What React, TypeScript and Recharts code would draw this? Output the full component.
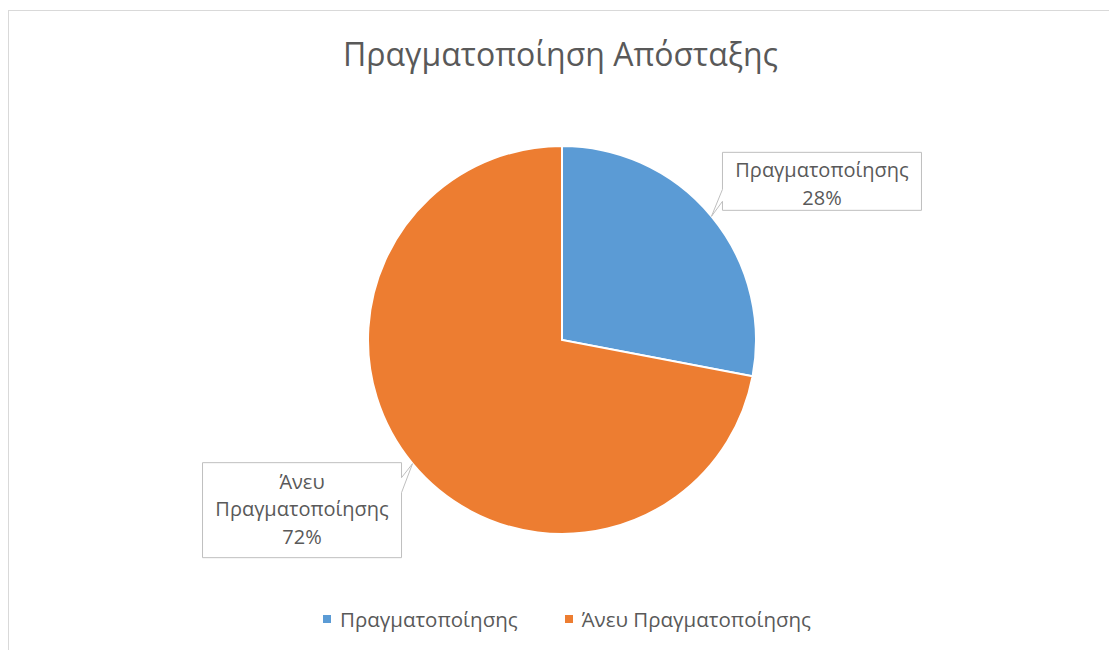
import React from 'react';
import { PieChart, Pie, Cell, Legend } from 'recharts';

const categories = ['Πραγματοποίησης', 'Άνευ Πραγματοποίησης'];
const values = [28, 72];
const title = 'Πραγματοποίηση Απόσταξης';

const COLORS = ['#5B9BD5', '#ED7D31'];
const TEXT = '#595959';
const FONT = '"Open Sans", sans-serif';

const data = categories.map((name, i) => ({ name, value: values[i] }));

// callout box geometry per slice (style only)
const BOXES = [
  { side: 'right', dx: 11, dy: -64, w: 199, h: 58, base1: 37, base2: 49, firstLine: 25 },
  { side: 'left', dx: -11, dy: -1, w: 199, h: 95, base1: 15, base2: 30, firstLine: 26 },
];
const LINE_H = 27.5;
const RADIAN = Math.PI / 180;

const renderLabel = (props: any) => {
  const { cx, cy, midAngle, outerRadius, percent, index, name } = props;
  const tx = cx + outerRadius * Math.cos(-midAngle * RADIAN);
  const ty = cy + outerRadius * Math.sin(-midAngle * RADIAN);
  const b = BOXES[index];
  const top = ty + b.dy;
  const bottom = top + b.h;
  let left: number, right: number, d: string;
  if (b.side === 'right') {
    left = tx + b.dx;
    right = left + b.w;
    d = `M${left},${top} H${right} V${bottom} H${left} V${top + b.base2} L${tx},${ty} L${left},${top + b.base1} Z`;
  } else {
    right = tx + b.dx;
    left = right - b.w;
    d = `M${left},${top} H${right} V${top + b.base1} L${tx},${ty} L${right},${top + b.base2} V${bottom} H${left} Z`;
  }
  const words = String(name).split(' ');
  const lines = [...words, `${Math.round(percent * 100)}%`];
  const mid = (left + right) / 2;
  return (
    <g key={`lbl-${index}`}>
      <path d={d} fill="#FFFFFF" stroke="#BFBFBF" strokeWidth={1} />
      {lines.map((t, i) => (
        <text
          key={i}
          x={mid}
          y={top + b.firstLine + i * LINE_H}
          textAnchor="middle"
          fill={TEXT}
          fontFamily={FONT}
          fontSize={20}
        >
          {t}
        </text>
      ))}
    </g>
  );
};

const renderLegend = (props: any) => {
  const payload = [...(props.payload || [])].sort(
    (a: any, b: any) => categories.indexOf(a.value) - categories.indexOf(b.value)
  );
  return (
    <div style={{ display: 'flex', justifyContent: 'center', alignItems: 'center', fontFamily: FONT, fontSize: 20.5, color: TEXT, lineHeight: '24px' }}>
      {payload.map((p: any, i: number) => (
        <div key={i} style={{ display: 'flex', alignItems: 'center', marginLeft: i === 0 ? 0 : 47 }}>
          <span style={{ display: 'inline-block', width: 8, height: 8, background: p.color, marginRight: 9 }} />
          <span>{p.value}</span>
        </div>
      ))}
    </div>
  );
};

export default function App() {
  return (
    <div style={{ position: 'absolute', left: 0, top: 0, width: 1109, height: 650, overflow: 'hidden', background: '#FFFFFF' }}>
      <div style={{ position: 'absolute', left: 8, top: 10, width: 1300, height: 900, border: '1px solid #D9D9D9', boxSizing: 'border-box' }} />
      <div
        style={{
          position: 'absolute',
          left: 0,
          top: 38,
          width: 1121,
          textAlign: 'center',
          fontFamily: FONT,
          fontSize: 32,
          lineHeight: '32px',
          color: TEXT,
          whiteSpace: 'nowrap',
        }}
      >
        {title}
      </div>
      <div style={{ position: 'absolute', left: 0, top: 0 }}>
        <PieChart width={1109} height={650}>
          <Pie
            data={data}
            dataKey="value"
            nameKey="name"
            cx={557}
            cy={335}
            outerRadius={194}
            startAngle={90}
            endAngle={-270}
            stroke="#FFFFFF"
            strokeWidth={2}
            labelLine={false}
            label={renderLabel}
            isAnimationActive={false}
          >
            {data.map((_, i) => (
              <Cell key={i} fill={COLORS[i]} />
            ))}
          </Pie>
          <Legend
            content={renderLegend}
            wrapperStyle={{ position: 'absolute', top: 607, left: 0, width: 1134 }}
          />
        </PieChart>
      </div>
    </div>
  );
}
